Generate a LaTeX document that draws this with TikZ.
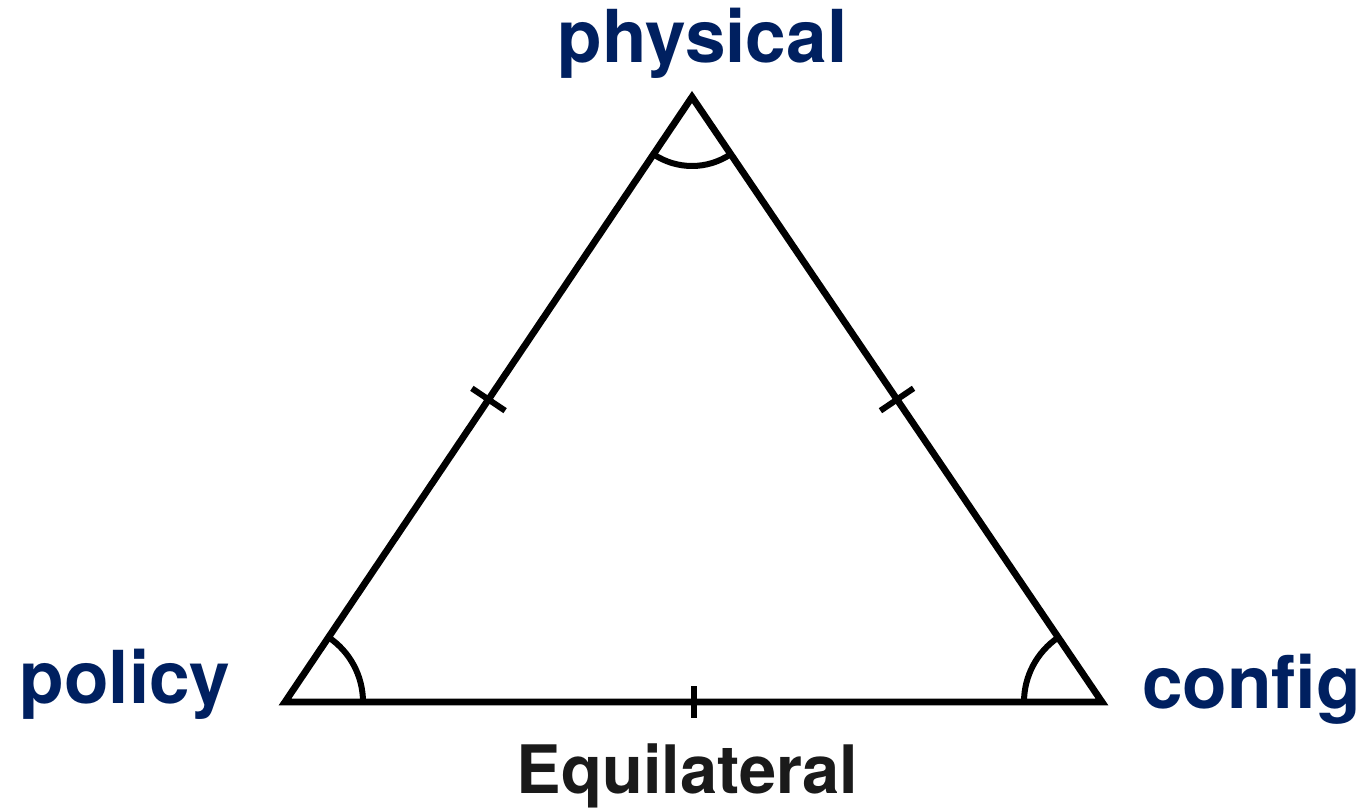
\documentclass[tikz,border=0pt]{standalone}
\usepackage{fontspec}
\setmainfont{TeX Gyre Heros}
\usetikzlibrary{calc}
\definecolor{navy}{HTML}{002060}
\definecolor{capgray}{HTML}{1A1A1A}
\tikzset{
  side/.style={line width=3.4pt, line join=miter, black},
  mark line/.style={line width=3pt, black},
  vlabel/.style={anchor=base, inner sep=0pt, text=navy, font=\fontsize{36.5}{40}\selectfont\bfseries},
  caption/.style={anchor=base, inner sep=0pt, text=capgray, font=\fontsize{33.4}{38}\selectfont\bfseries}
}
\begin{document}
\begin{tikzpicture}[x=0.5pt,y=-0.5pt]
\useasboundingbox (0,0) rectangle (1371,808);
\coordinate (A) at (692,97);
\coordinate (B) at (285,702);
\coordinate (C) at (1102,702);
\draw[side] (A) -- (B) -- (C) -- cycle;
% angle arcs
\draw[mark line] ($(A)+(236.1:34.5pt)$) arc[start angle=236.1, end angle=304.1, radius=34.5pt];
\draw[mark line] ($(B)+(0:39pt)$) arc[start angle=0, end angle=56.1, radius=39pt];
\draw[mark line] ($(C)+(124.1:39pt)$) arc[start angle=124.1, end angle=180, radius=39pt];
% tick marks
\coordinate (mab) at ($(A)!0.5!(B)$);
\coordinate (mac) at ($(A)!0.5!(C)$);
\coordinate (mbc) at ($(B)!0.5!(C)$);
\draw[mark line] ($(mab)!10pt!90:(B)$) -- ($(mab)!10pt!-90:(B)$);
\draw[mark line] ($(mac)!10pt!90:(C)$) -- ($(mac)!10pt!-90:(C)$);
\draw[mark line] ($(mbc)!8pt!90:(C)$) -- ($(mbc)!8pt!-90:(C)$);
% labels
\node[vlabel] (physical) at (702.5,63) {physical};
\node[vlabel] (policy) at (125,703) {policy};
\node[vlabel] (config) at (1251.5,708) {config};
\node[caption] (eq) at (687.5,793) {Equilateral};
\end{tikzpicture}
\end{document}
